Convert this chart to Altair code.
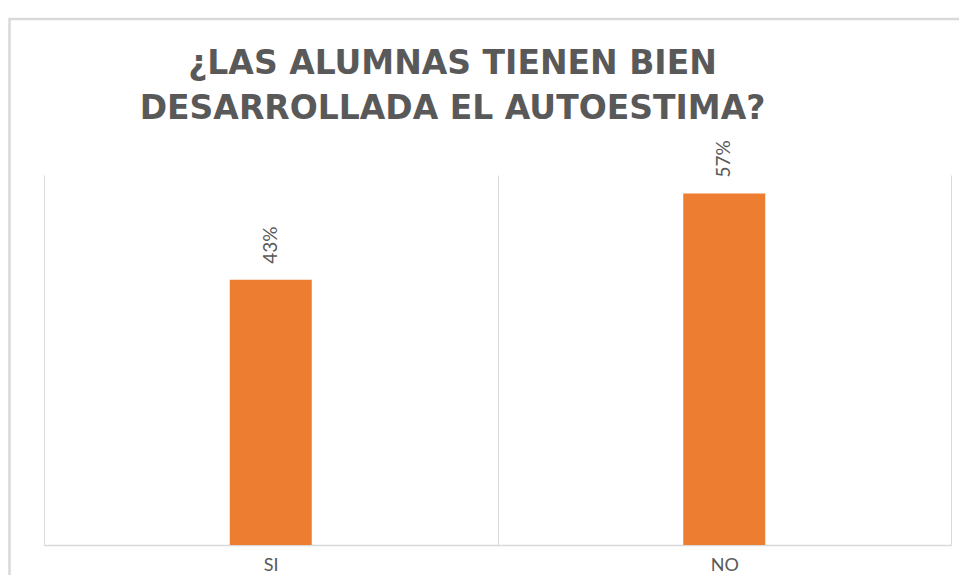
import altair as alt
import pandas as pd

categories = ["SI", "NO"]
values = [0.43, 0.57]
labels = ["43%", "57%"]

df = pd.DataFrame({"cat": categories, "val": values, "lab": labels})

x = alt.X("cat:N", sort=categories, title=None,
          scale=alt.Scale(paddingInner=0, paddingOuter=0),
          axis=alt.Axis(labelAngle=0, tickBand="extent", grid=True, gridColor="#d9d9d9",
                        ticks=False, domainColor="#d9d9d9", domainWidth=1.5,
                        labelFont="Lato", labelFontSize=18, labelColor="#595959",
                        labelPadding=11))
y = alt.Y("val:Q", title=None, scale=alt.Scale(domain=[0, 0.6]), axis=None)

frame = alt.Chart(df.head(1)).mark_rect(filled=False, stroke="#d9d9d9", strokeWidth=2.5,
                                        clip=False).encode(
    x=alt.value(-34.5), x2=alt.value(960), y=alt.value(-156), y2=alt.value(430))
bars = alt.Chart(df).mark_bar(color="#ED7D31", size=82).encode(x=x, y=y)
text = alt.Chart(df).mark_text(angle=270, align="left", baseline="middle", dx=16,
                               font="Lato", fontSize=19, color="#595959").encode(
    x=alt.X("cat:N", sort=categories), y="val:Q", text="lab:N")

chart = (frame + bars + text).properties(
    width=907, height=370,
    autosize=alt.AutoSizeParams(type="none"),
    title=alt.TitleParams(["¿LAS ALUMNAS TIENEN BIEN", "DESARROLLADA  EL AUTOESTIMA?"],
                          font="DejaVu Sans", fontSize=33, fontWeight="bold", color="#595959",
                          lineHeight=45, anchor="middle", dx=-45, offset=-108, frame="group"),
    padding={"left": 36, "top": 167, "right": 8, "bottom": 30},
).configure_view(stroke=None)

chart.save("out.html", embed_options={"renderer": "svg", "actions": False})
